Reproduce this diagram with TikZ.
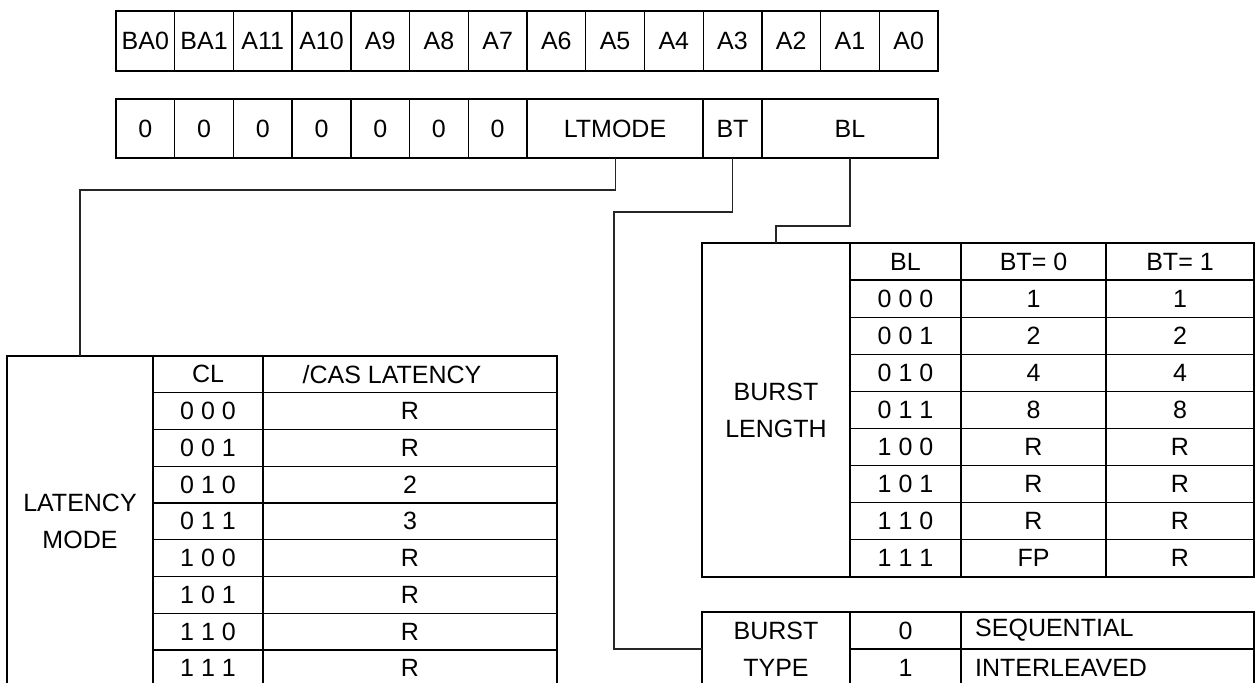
\documentclass[tikz,border=0pt]{standalone}
\usepackage{fontspec}
\setmainfont{Liberation Sans}
\newcommand\regfont{\fontsize{25}{37}\selectfont}
\tikzset{
  cell/.style={draw, line width=1.3pt, inner sep=0pt, outer sep=0pt, font=\regfont, align=center},
  outerbox/.style={draw, line width=2.6pt},
  wire/.style={draw, line width=1.1pt, black!85},
  txt/.style={inner sep=0pt, font=\regfont},
}
% \regcell{name}{x1}{y1}{x2}{y2}{text}
\newcommand\regcell[6]{%
  \node[cell, minimum width={((#4)-(#2))*1pt}, minimum height={((#5)-(#3))*1pt}]
    (#1) at ({((#2)+(#4))/2},{((#3)+(#5))/2}) {#6};%
}
\begin{document}
\begin{tikzpicture}[x=1pt,y=-1pt]
\useasboundingbox (0,0) rectangle (1257,682);
\clip (0,0) rectangle (1257,682);
\fill[white] (0,0) rectangle (1257,682);

% ---- register row 1 ----
\foreach \l [count=\i from 0] in {BA0,BA1,A11,A10,A9,A8,A7,A6,A5,A4,A3,A2,A1,A0} {
  \regcell{t\i}{116+58.714*\i}{11}{116+58.714*(\i+1)}{71}{\l}
}
\draw[outerbox] (t0.north west) rectangle (t13.south east);

% ---- register row 2 ----
\foreach \i in {0,...,6} {
  \regcell{z\i}{116+58.714*\i}{99}{116+58.714*(\i+1)}{158}{0}
}
\regcell{ltmode}{527.0}{99}{703.1}{158}{LTMODE}
\regcell{bt}{703.1}{99}{761.9}{158}{BT}
\regcell{bl}{761.9}{99}{938}{158}{BL}
\draw[outerbox] (z0.north west) rectangle (bl.south east);

% ---- latency mode table ----
\regcell{latlbl}{7}{356}{153}{686.75}{LATENCY\\MODE}
\regcell{clh}{153}{356}{263}{392.75}{CL}
\regcell{cash}{263}{356}{557}{392.75}{}
\node[txt] (cashtxt) at (392,374.4) {/CAS LATENCY};
\foreach \c/\v [count=\k] in {0 0 0/R,0 0 1/R,0 1 0/2,0 1 1/3,1 0 0/R,1 0 1/R,1 1 0/R,1 1 1/R} {
  \regcell{lc\k}{153}{356+36.75*\k}{263}{356+36.75*(\k+1)}{\c}
  \regcell{lv\k}{263}{356+36.75*\k}{557}{356+36.75*(\k+1)}{\v}
}
\draw[outerbox] (7,356) rectangle (557,686.75);

% ---- burst length table ----
\regcell{blen}{702}{243}{850}{576.9}{BURST\\LENGTH}
\regcell{blh}{850}{243}{961}{280.1}{BL}
\regcell{bt0h}{961}{243}{1106}{280.1}{BT= 0}
\regcell{bt1h}{1106}{243}{1254}{280.1}{BT= 1}
\foreach \c/\a/\b [count=\k] in {0 0 0/1/1,0 0 1/2/2,0 1 0/4/4,0 1 1/8/8,1 0 0/R/R,1 0 1/R/R,1 1 0/R/R,1 1 1/FP/R} {
  \regcell{bc\k}{850}{243+37.1*\k}{961}{243+37.1*(\k+1)}{\c}
  \regcell{ba\k}{961}{243+37.1*\k}{1106}{243+37.1*(\k+1)}{\a}
  \regcell{bb\k}{1106}{243+37.1*\k}{1254}{243+37.1*(\k+1)}{\b}
}
\draw[outerbox] (702,243) rectangle (1254,576.9);

% ---- burst type table ----
\regcell{btype}{702}{612}{850}{686}{BURST\\TYPE}
\regcell{bty0}{850}{612}{961}{649}{0}
\regcell{btv0}{961}{612}{1254}{649}{}
\regcell{bty1}{850}{649}{961}{686}{1}
\regcell{btv1}{961}{649}{1254}{686}{}
\node[txt, anchor=west] (seq) at (975,630.5) {SEQUENTIAL};
\node[txt, anchor=west] (intl) at (975,667.5) {INTERLEAVED};
\draw[outerbox] (702,612) rectangle (1254,686);

% ---- connectors ----
\coordinate (ltk) at (615.05,190);
\coordinate (btk) at (614,212);
\coordinate (blk) at (849.95,226);
\draw[wire] (ltmode.south) -- (ltk) -| (latlbl.north);
\draw[wire] (bt.south) |- (btk) |- (btype.west);
\draw[wire] (bl.south) -- (blk) -| (blen.north);
\end{tikzpicture}
\end{document}
